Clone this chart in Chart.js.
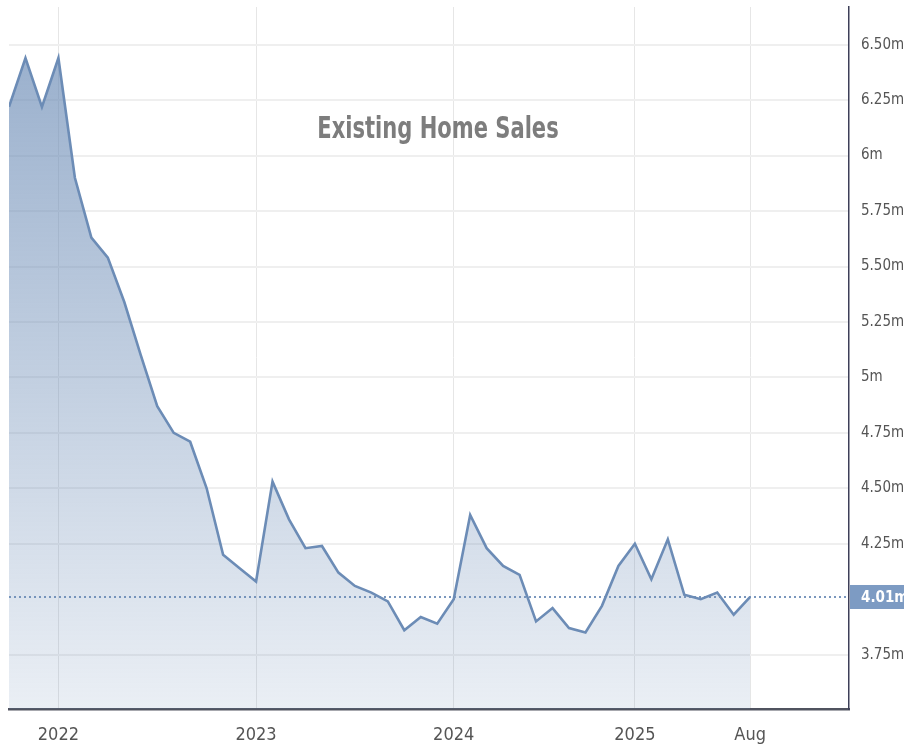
<!DOCTYPE html>
<html>
<head>
<meta charset="utf-8">
<title>Existing Home Sales</title>
<script src="https://cdn.jsdelivr.net/npm/chart.js@4.4.0/dist/chart.umd.min.js"></script>
<style>
  html, body { margin: 0; padding: 0; background: #ffffff; }
  #wrap { position: relative; width: 904px; height: 748px; }
</style>
</head>
<body>
<div id="wrap"><canvas id="salesChart"></canvas></div>
<script>
// Existing home sales, millions of units (annual rate), one value a month
const months = [
    '2021-10', '2021-11', '2021-12',
    '2022-01', '2022-02', '2022-03', '2022-04', '2022-05', '2022-06',
    '2022-07', '2022-08', '2022-09', '2022-10', '2022-11', '2022-12',
    '2023-01', '2023-02', '2023-03', '2023-04', '2023-05', '2023-06',
    '2023-07', '2023-08', '2023-09', '2023-10', '2023-11', '2023-12',
    '2024-01', '2024-02', '2024-03', '2024-04', '2024-05', '2024-06',
    '2024-07', '2024-08', '2024-09', '2024-10', '2024-11', '2024-12',
    '2025-01', '2025-02', '2025-03', '2025-04', '2025-05', '2025-06',
    '2025-07'
];
const sales = [
    6.22, 6.44, 6.22,
    6.44, 5.90, 5.63, 5.54, 5.34, 5.10,
    4.87, 4.75, 4.71, 4.50, 4.20, 4.14,
    4.08, 4.53, 4.36, 4.23, 4.24, 4.12,
    4.06, 4.03, 3.99, 3.86, 3.92, 3.89,
    4.00, 4.38, 4.23, 4.15, 4.11, 3.90,
    3.96, 3.87, 3.85, 3.97, 4.15, 4.25,
    4.09, 4.27, 4.02, 4.00, 4.03, 3.93,
    4.01
];

// x ticks are month offsets from Jan 2022
const xTickPos = [0, 12, 24, 35, 42];
const xTickLabels = ['2022', '2023', '2024', '2025', 'Aug'];

// the 4m label sits under the last-value box, so it is left blank
const yTicks = [3.75, 4, 4.25, 4.5, 4.75, 5, 5.25, 5.5, 5.75, 6, 6.25, 6.5];
const yTickLabels = ['3.75m', '', '4.25m', '4.50m', '4.75m', '5m', '5.25m', '5.50m', '5.75m', '6m', '6.25m', '6.50m'];

const chartTitle = 'Existing Home Sales';
const lastLabel = '4.01m';

const lineColor = 'rgb(108, 140, 182)';
const labelFont = "'DejaVu Sans Condensed', 'DejaVu Sans', sans-serif";

function monthIndex(s) {
    var p = s.split('-');
    return (parseInt(p[0]) - 2022) * 12 + parseInt(p[1]) - 1;
}

const points = months.map(function(m, i) {
    return { x: monthIndex(m), y: sales[i] };
});

// dotted line at the last value, title, and the value box on the axis
const overlayPlugin = {
    id: 'overlay',
    afterDatasetsDraw(chart) {
        const ctx = chart.ctx;
        const area = chart.chartArea;
        const y = chart.scales.y.getPixelForValue(sales[sales.length - 1]);
        ctx.save();
        ctx.strokeStyle = 'rgba(108, 140, 182, 0.9)';
        ctx.lineWidth = 2;
        ctx.setLineDash([2, 3]);
        ctx.beginPath();
        ctx.moveTo(area.left, y);
        ctx.lineTo(area.right, y);
        ctx.stroke();
        ctx.restore();
    },
    afterDraw(chart) {
        const ctx = chart.ctx;
        const area = chart.chartArea;
        const y = chart.scales.y.getPixelForValue(sales[sales.length - 1]);
        ctx.save();
        // title inside the plot, squeezed a bit to look like the narrow original
        ctx.font = "bold 30px " + labelFont;
        ctx.fillStyle = '#7d7d7d';
        ctx.textAlign = 'center';
        ctx.textBaseline = 'alphabetic';
        ctx.translate(438, 138);
        ctx.scale(0.78, 1);
        ctx.fillText(chartTitle, 0, 0);
        ctx.setTransform(1, 0, 0, 1, 0, 0);

        // last value box
        ctx.fillStyle = 'rgb(125, 155, 195)';
        ctx.fillRect(area.right + 1, y - 12, chart.width - area.right - 1, 24);
        ctx.font = "bold 15px " + labelFont;
        ctx.fillStyle = '#ffffff';
        ctx.textAlign = 'left';
        ctx.textBaseline = 'middle';
        ctx.fillText(lastLabel, area.right + 12, y + 1);
        ctx.restore();
    }
};

document.addEventListener('DOMContentLoaded', function() {
    const canvas = document.getElementById('salesChart');
    canvas.width = 904;
    canvas.height = 748;

    new Chart(canvas.getContext('2d'), {
        type: 'line',
        data: {
            datasets: [{
                label: chartTitle,
                data: points,
                borderColor: lineColor,
                borderWidth: 2.6,
                pointRadius: 0,
                tension: 0,
                fill: 'start',
                backgroundColor: function(context) {
                    const chart = context.chart;
                    const area = chart.chartArea;
                    if (!area) return 'rgba(108, 140, 182, 0.4)';
                    const g = chart.ctx.createLinearGradient(0, area.top, 0, area.bottom);
                    g.addColorStop(0, 'rgba(108, 140, 182, 0.72)');
                    g.addColorStop(1, 'rgba(108, 140, 182, 0.14)');
                    return g;
                }
            }]
        },
        options: {
            responsive: false,
            animation: false,
            layout: { padding: { left: 9, top: 7, right: 0, bottom: 0 } },
            plugins: {
                legend: { display: false },
                tooltip: { enabled: false },
                title: { display: false }
            },
            scales: {
                x: {
                    type: 'linear',
                    min: -3,
                    max: 48,
                    afterBuildTicks: function(scale) {
                        scale.ticks = xTickPos.map(function(v) { return { value: v }; });
                    },
                    afterFit: function(scale) {
                        scale.height = 39;
                        scale.paddingLeft = 0;
                        scale.paddingRight = 0;
                    },
                    ticks: {
                        autoSkip: false,
                        maxRotation: 0,
                        padding: 16,
                        color: '#555555',
                        font: { family: labelFont, size: 18 },
                        callback: function(value) {
                            const i = xTickPos.indexOf(value);
                            return i >= 0 ? xTickLabels[i] : '';
                        }
                    },
                    grid: {
                        color: '#e6e6e6',
                        lineWidth: 1,
                        drawTicks: false
                    },
                    border: { display: true, color: '#50535f', width: 2.5 }
                },
                y: {
                    position: 'right',
                    min: 3.505,
                    max: 6.67,
                    afterBuildTicks: function(scale) {
                        scale.ticks = yTicks.map(function(v) { return { value: v }; });
                    },
                    afterFit: function(scale) {
                        scale.width = 55;
                        scale.paddingTop = 0;
                        scale.paddingBottom = 0;
                    },
                    ticks: {
                        padding: 12,
                        color: '#555555',
                        font: { family: labelFont, size: 15 },
                        callback: function(value) {
                            const i = yTicks.indexOf(value);
                            return i >= 0 ? yTickLabels[i] : '';
                        }
                    },
                    grid: {
                        color: function(ctx) {
                            if (ctx.tick && ctx.tick.value === 4) return 'rgba(0,0,0,0)';
                            return '#efefef';
                        },
                        lineWidth: 2,
                        drawTicks: false
                    },
                    border: { display: true, color: '#3d3f58', width: 1.5 }
                }
            }
        },
        plugins: [overlayPlugin]
    });
});
</script>
</body>
</html>
